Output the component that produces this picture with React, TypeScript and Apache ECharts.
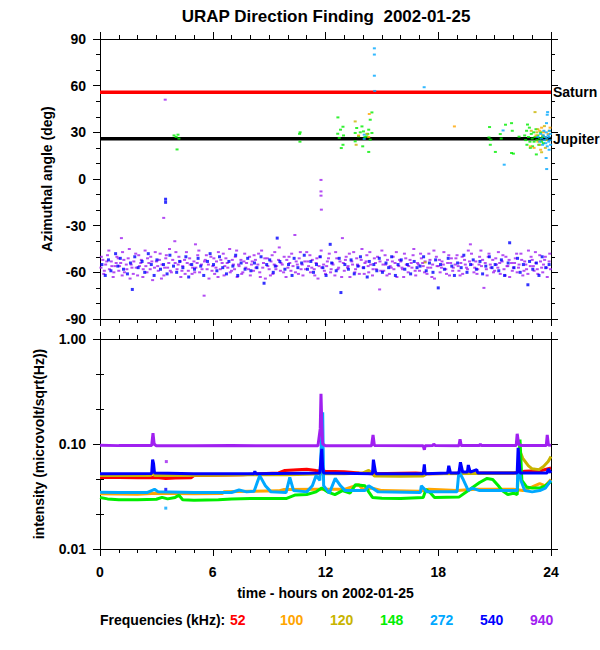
import React, { useEffect, useRef } from "react";
import * as echarts from "echarts";

const TITLE = "URAP Direction Finding  2002-01-25";
const X_TITLE = "time - hours on 2002-01-25";
const Y_TITLE_TOP = "Azimuthal angle (deg)";
const Y_TITLE_BOTTOM = "intensity (microvolt/sqrt(Hz))";
const X_TICKS = [0, 6, 12, 18, 24];
const ANGLE_TICKS = [-90, -60, -30, 0, 30, 60, 90];
const LOG_EXP_TICKS = [-2, -1, 0];
const FREQ_LABEL = "Frequencies (kHz):";
const FREQS = ["52", "100", "120", "148", "272", "540", "940"];
const FREQ_COLORS = ["#ff0000", "#ffa500", "#c8b400", "#00ee00", "#00a8ff", "#0000ff", "#a020f0"];
const PLANETS = ["Saturn", "Jupiter"];
const PLANET_ANGLES = [55.8, 25.9];
const PLANET_COLORS = ["#ff0000", "#000000"];

// ---- azimuth (deg) vs time (h) ----
const AZ_940 = [
  [0.05,-57],[0.07,-50],[0.15,-52],[0.2,-61],[0.23,-59],[0.3,-55],[0.36,-53],[0.4,-49],[0.47,-46],[0.5,-58],[0.6,-53],[0.63,-56],[0.7,-63],[0.74,-60],[0.8,-56],[0.86,-54],[0.9,-50],[0.97,-51],
  [1.0,-59],[1.04,-56],[1.1,-54],[1.14,-38],[1.18,-62],[1.2,-47],[1.27,-52],[1.3,-60],[1.4,-55],[1.43,-58],[1.5,-51],[1.56,-45],[1.6,-64],[1.66,-55],[1.7,-57],[1.77,-61],[1.8,-53],[1.9,-48],[1.93,-57],
  [2.0,-62],[2.06,-49],[2.1,-56],[2.17,-54],[2.2,-52],[2.28,-63],[2.3,-58],[2.4,-46],[2.44,-56],[2.5,-60],[2.53,-51],[2.6,-54],[2.67,-58],[2.7,-50],[2.76,-53],[2.8,-65],[2.9,-57],[2.94,-47],
  [3.0,-53],[3.07,-56],[3.1,-59],[3.16,-52],[3.2,-48],[3.27,-64],[3.3,-55],[3.4,-62],[3.44,-57],[3.5,-51],[3.53,-49],[3.6,-57],[3.66,-54],[3.7,-45],[3.74,-59],[3.8,-60],[3.87,-52],[3.98,-40],
  [4.0,-54],[4.04,-47],[4.1,-58],[4.16,-55],[4.2,-50],[4.27,-53],[4.3,-63],[4.36,-59],[4.4,-56],[4.5,-52],[4.53,-61],[4.6,-47],[4.64,-54],[4.7,-59],[4.77,-51],[4.8,-55],[4.9,-61],[4.93,-57],
  [5.0,-53],[5.04,-60],[5.08,-42],[5.1,-57],[5.17,-54],[5.2,-49],[5.26,-46],[5.3,-60],[5.4,-55],[5.43,-58],[5.54,-75],[5.56,-53],[5.6,-52],[5.66,-49],[5.7,-58],[5.77,-55],[5.8,-64],[5.9,-50],[5.96,-59],
  [6.0,-56],[6.06,-51],[6.1,-61],[6.17,-57],[6.2,-53],[6.28,-63],[6.3,-47],[6.4,-58],[6.43,-52],[6.5,-54],[6.56,-48],[6.6,-62],[6.64,-56],[6.7,-51],[6.77,-54],[6.8,-57],[6.9,-45],[6.93,-60],
  [7.0,-59],[7.04,-52],[7.1,-55],[7.16,-58],[7.2,-50],[7.27,-46],[7.3,-63],[7.37,-55],[7.4,-56],[7.5,-52],[7.54,-61],[7.6,-60],[7.66,-53],[7.7,-48],[7.76,-57],[7.8,-54],[7.9,-58],[7.96,-50],
  [8.0,-62],[8.06,-55],[8.1,-53],[8.17,-59],[8.2,-49],[8.27,-52],[8.3,-57],[8.4,-55],[8.44,-48],[8.5,-60],[8.53,-63],[8.6,-46],[8.66,-57],[8.7,-54],[8.77,-51],[8.8,-64],[8.9,-51],[8.93,-56],
  [9.0,-58],[9.07,-62],[9.1,-53],[9.16,-49],[9.2,-61],[9.27,-55],[9.3,-47],[9.36,-58],[9.4,-56],[9.5,-52],[9.54,-44],[9.6,-59],[9.63,-54],[9.7,-55],[9.77,-60],[9.8,-50],[9.9,-63],[9.94,-52],
  [10.0,-57],[10.06,-50],[10.1,-54],[10.16,-59],[10.2,-48],[10.27,-56],[10.37,-36],[10.4,-60],[10.44,-53],[10.5,-55],[10.56,-61],[10.6,-51],[10.66,-47],[10.7,-58],[10.76,-55],[10.8,-62],[10.9,-53],[10.94,-58],
  [11.0,-47],[11.06,-53],[11.1,-56],[11.17,-49],[11.2,-60],[11.27,-57],[11.3,-52],[11.4,-58],[11.43,-62],[11.5,-54],[11.54,-51],[11.6,-64],[11.66,-56],[11.7,-50],[11.77,-46],[11.8,-57],[11.9,-55],[11.94,-59],
  [12.0,-61],[12.06,-56],[12.1,-53],[12.16,-51],[12.2,-48],[12.27,-60],[12.3,-58],[12.36,-54],[12.4,-55],[12.5,-62],[12.54,-47],[12.6,-51],[12.66,-58],[12.7,-57],[12.77,-53],[12.86,-63],[12.9,-38],[12.95,-54],
  [13.0,-59],[13.06,-52],[13.1,-50],[13.17,-57],[13.2,-56],[13.27,-48],[13.3,-63],[13.4,-53],[13.44,-55],[13.5,-47],[13.56,-60],[13.6,-58],[13.66,-51],[13.7,-55],[13.77,-56],[13.8,-61],[13.9,-52],[13.94,-45],
  [14.0,-57],[14.06,-61],[14.1,-54],[14.16,-53],[14.2,-49],[14.27,-56],[14.3,-60],[14.36,-47],[14.4,-55],[14.5,-62],[14.53,-58],[14.6,-51],[14.66,-54],[14.7,-58],[14.77,-50],[14.88,-71],[14.9,-53],[14.94,-59],
  [15.0,-46],[15.06,-55],[15.1,-59],[15.17,-49],[15.2,-55],[15.27,-62],[15.3,-52],[15.4,-61],[15.44,-56],[15.5,-57],[15.56,-53],[15.6,-50],[15.64,-58],[15.7,-54],[15.77,-47],[15.8,-63],[15.9,-56],[15.94,-52],
  [16.0,-53],[16.07,-57],[16.1,-58],[16.16,-63],[16.2,-48],[16.27,-51],[16.3,-55],[16.4,-60],[16.43,-56],[16.5,-52],[16.56,-54],[16.6,-57],[16.66,-49],[16.7,-45],[16.77,-59],[16.8,-62],[16.9,-54],[16.94,-55],
  [17.0,-59],[17.06,-48],[17.1,-51],[17.17,-54],[17.2,-56],[17.27,-60],[17.3,-53],[17.4,-61],[17.44,-57],[17.5,-48],[17.56,-52],[17.6,-57],[17.66,-63],[17.7,-55],[17.77,-46],[17.8,-64],[17.9,-50],[17.94,-56],
  [18.0,-56],[18.06,-52],[18.1,-60],[18.17,-57],[18.2,-53],[18.27,-55],[18.3,-47],[18.4,-58],[18.44,-61],[18.5,-54],[18.56,-49],[18.6,-62],[18.66,-54],[18.7,-51],[18.77,-59],[18.8,-57],[18.9,-55],[18.94,-51],
  [19.0,-49],[19.06,-56],[19.1,-59],[19.16,-62],[19.2,-54],[19.27,-50],[19.3,-61],[19.4,-52],[19.44,-55],[19.5,-57],[19.56,-58],[19.6,-46],[19.66,-53],[19.71,-42],[19.77,-48],[19.8,-55],[19.9,-60],[19.94,-57],
  [20.0,-53],[20.06,-61],[20.1,-58],[20.17,-55],[20.2,-50],[20.27,-46],[20.3,-56],[20.36,-52],[20.43,-70],[20.5,-54],[20.56,-58],[20.6,-62],[20.66,-50],[20.7,-48],[20.77,-55],[20.8,-57],[20.9,-52],[20.94,-60],
  [21.0,-59],[21.06,-51],[21.1,-55],[21.17,-57],[21.2,-47],[21.27,-54],[21.3,-61],[21.4,-53],[21.44,-49],[21.5,-58],[21.56,-62],[21.6,-50],[21.66,-56],[21.7,-56],[21.77,-52],[21.8,-63],[21.9,-54],[21.94,-59],
  [22.0,-57],[22.06,-54],[22.1,-51],[22.17,-48],[22.2,-60],[22.27,-57],[22.3,-55],[22.4,-48],[22.44,-52],[22.5,-62],[22.56,-59],[22.6,-53],[22.66,-55],[22.7,-58],[22.77,-61],[22.8,-46],[22.9,-56],[22.94,-50],
  [23.0,-52],[23.06,-56],[23.1,-59],[23.17,-47],[23.2,-54],[23.27,-58],[23.3,-61],[23.4,-49],[23.44,-53],[23.5,-57],[23.56,-60],[23.6,-55],[23.66,-52],[23.7,-50],[23.77,-57],[23.8,-63],[23.9,-53],[23.93,-48],[23.97,-58],
  [3.47,51],[3.39,-25],[11.76,-0.6],[11.76,-8],[11.76,-10.7],[11.78,-19.7]
];

const AZ_540 = [
  [0.1,-55],[0.28,-62],[0.45,-52],[0.58,-59],[0.83,-48],[0.95,-56],
  [1.08,-51],[1.25,-58],[1.46,-61],[1.62,-54],[1.72,-71],[1.85,-50],
  [2.03,-57],[2.24,-53],[2.38,-60],[2.57,-48],[2.73,-55],[2.88,-62],
  [3.03,-52],[3.22,-58],[3.38,-55],[3.57,-61],[3.72,-49],[3.91,-56],
  [4.08,-60],[4.24,-53],[4.41,-57],[4.57,-50],[4.72,-63],[4.88,-55],
  [5.03,-58],[5.22,-51],[5.36,-56],[5.52,-62],[5.72,-53],[5.86,-48],
  [6.04,-55],[6.22,-59],[6.36,-50],[6.53,-57],[6.73,-61],[6.86,-53],
  [7.07,-56],[7.22,-49],[7.33,-62],[7.51,-54],[7.72,-58],[7.86,-51],
  [8.03,-59],[8.22,-54],[8.35,-57],[8.57,-50],[8.73,-67],[8.87,-55],
  [9.03,-52],[9.22,-60],[9.33,-56],[9.43,-38],[9.57,-53],[9.84,-58],
  [10.03,-55],[10.22,-62],[10.33,-51],[10.53,-57],[10.73,-54],[10.87,-49],
  [11.04,-58],[11.22,-53],[11.36,-60],[11.52,-55],[11.72,-50],[11.86,-57],
  [12.03,-62],[12.25,-42],[12.33,-54],[12.57,-59],[12.73,-51],[12.82,-73],
  [13.03,-55],[13.22,-58],[13.36,-52],[13.53,-61],[13.72,-56],[13.86,-50],
  [14.03,-57],[14.22,-63],[14.33,-53],[14.57,-55],[14.73,-59],[14.86,-51],
  [15.03,-60],[15.22,-54],[15.36,-57],[15.52,-50],[15.72,-62],[15.86,-55],
  [16.03,-52],[16.22,-58],[16.36,-55],[16.53,-61],[16.72,-53],[16.87,-57],
  [17.03,-56],[17.22,-50],[17.36,-59],[17.53,-54],[17.72,-60],[17.86,-52],
  [18.0,-70],[18.12,-55],[18.33,-58],[18.53,-51],[18.72,-56],[18.86,-62],
  [19.03,-54],[19.22,-57],[19.36,-49],[19.53,-60],[19.72,-55],[19.86,-52],
  [20.03,-58],[20.22,-53],[20.36,-61],[20.53,-56],[20.72,-50],[20.86,-57],
  [21.03,-55],[21.22,-59],[21.36,-52],[21.53,-62],[21.72,-54],[21.8,-41],
  [22.03,-57],[22.22,-51],[22.36,-60],[22.53,-55],[22.77,-68],[22.86,-53],
  [23.03,-58],[23.22,-54],[23.36,-62],[23.53,-50],[23.72,-57],[23.9,-55],
  [3.49,-13],[3.49,-15]
];

const AZ_148 = [
  [3.94,28],[4.05,27],[4.15,28.5],[4.2,26],[4.1,19],
  [10.62,29],[10.65,30],[10.64,24],
  [12.66,39.6],[12.93,33.6],[12.8,31.7],[12.65,29.1],[12.73,26.4],[12.96,28],[12.84,19.9],[12.93,22],
  [13.94,33.8],[14.38,38.1],[14.47,42.8],[14.3,31.7],[14.02,30.6],[13.66,32.8],[13.58,29.6],[13.76,27.4],
  [14.2,27.4],[14.38,25.3],[13.98,21],[14.3,17.4],[14.47,29.6],[13.58,24.2],[14.1,27],[13.85,30],[14.25,29],
  [20.73,33.4],[21.58,34.9],[21.9,35.9],[21.94,31],[20.7,26.7],[20.8,25.3],[21.3,28.9],[21.35,26],
  [20.77,22],[21.04,17.4],[21.9,16.7],[22.0,16.3],[22.3,27.2],
  [22.6,28],[22.65,25],[22.7,31],[22.72,22],[22.8,27],[22.85,33],[22.88,24],[22.95,29],[23.0,26],
  [23.02,21],[23.08,30],[23.1,24],[23.15,27],[23.2,32],[23.22,15.8],[23.25,25],[23.3,28],[23.35,22],
  [23.4,26],[23.45,30],[23.5,24],[23.55,27],[23.6,23],[22.75,35],[22.9,20]
];

const AZ_272 = [
  [14.6,84],[14.6,80],[14.6,66.4],[14.62,56.6],[17.25,59],[14.06,28.5],[14.06,25.8],
  [21.45,31.2],[21.51,9.2],[23.8,41.3],[23.82,43],[23.76,35.9],[23.9,18.8],[23.74,13.5],[23.77,6.4],
  [23.3,27],[23.4,24],[23.45,29],[23.5,26],[23.55,22],[23.6,28],[23.62,31],[23.65,25],[23.7,27],
  [23.72,23],[23.75,30],[23.78,26],[23.8,21],[23.85,28],[23.88,24],[23.9,27],[23.92,31],[23.95,25],
  [23.97,29],[23.98,22]
];

const AZ_120 = [
  [13.58,37],[13.63,22],[14.2,29],[17.3,-53.6],[23.15,43],[23.5,17.2],[23.3,32],[23.4,22],[23.55,28],
  [23.65,34],[23.25,30],[23.7,20],[23.75,25],[23.9,31],[22.95,31]
];

const AZ_100 = [
  [18.86,33.8],[13.76,28],[14.33,41.8],[14.3,27],[22.9,21],[23.45,18.8],[23.1,20],[23.3,24],[23.5,33],
  [23.6,30],[23.7,27],[23.85,29],[23.4,31],[23.95,33],[23.2,28]
];

// ---- intensity (microvolt/sqrt(Hz)) vs time (h) ----
const INT_52 = [
  [0,0.048],[1,0.048],[2,0.0478],[3,0.048],[3.5,0.047],[4,0.0475],[4.86,0.0478],[5,0.05],[7.6,0.051],
  [8.5,0.052],[9.5,0.053],[9.84,0.056],[10.5,0.057],[11,0.0575],[11.5,0.056],[12,0.055],[13,0.0545],
  [13.8,0.053],[14.5,0.052],[16.8,0.053],[17.5,0.052],[20,0.053],[22,0.053],[22.6,0.055],[23.5,0.056],[24,0.059]
];
const INT_100 = [
  [0,0.0335],[2,0.0333],[3,0.034],[5,0.0335],[6.5,0.0337],[6.6,0.035],[8,0.0355],[9.5,0.0358],[9.8,0.0368],
  [11.5,0.037],[12,0.037],[13,0.037],[13.76,0.041],[14,0.037],[14.5,0.038],[15,0.036],[17,0.0355],[17.5,0.037],
  [19,0.036],[20,0.037],[22,0.037],[22.5,0.036],[23,0.039],[23.4,0.042],[23.7,0.04],[24,0.046]
];
const INT_120 = [
  [0,0.05],[2.7,0.05],[2.8,0.054],[2.9,0.05],[6,0.0505],[8,0.051],[10,0.051],[12,0.052],[13,0.052],
  [14.0,0.053],[14.3,0.056],[14.5,0.052],[14.6,0.0495],[16,0.0493],[17.2,0.0495],[17.4,0.052],[20,0.0525],
  [22.2,0.053],[22.35,0.085],[22.5,0.073],[22.8,0.062],[23.0,0.058],[23.35,0.057],[23.6,0.061],[23.85,0.068],[24,0.076]
];
const INT_148 = [
  [0,0.031],[0.4,0.03],[1,0.0295],[2,0.0295],[3,0.0298],[3.3,0.031],[3.6,0.03],[4.0,0.031],[4.2,0.0325],
  [4.4,0.0295],[5,0.0292],[6.3,0.0295],[7,0.03],[8,0.0302],[9.9,0.0302],[10.4,0.0327],[11,0.033],[11.5,0.035],
  [11.8,0.038],[12.1,0.035],[12.5,0.033],[12.9,0.036],[13.3,0.034],[13.6,0.041],[14.1,0.04],[14.3,0.035],
  [14.5,0.031],[15,0.0305],[16,0.0303],[17.2,0.031],[17.35,0.037],[17.6,0.034],[17.8,0.031],[19.1,0.0312],
  [19.6,0.036],[20.2,0.043],[20.6,0.047],[20.9,0.046],[21.2,0.04],[21.4,0.036],[21.7,0.033],[22.0,0.034],
  [22.2,0.033],[22.35,0.11],[22.45,0.045],[22.7,0.039],[23.0,0.038],[23.4,0.038],[23.7,0.04],[24,0.044]
];
const INT_272 = [
  [0,0.0348],[1,0.0345],[2.5,0.0345],[2.9,0.037],[3.1,0.035],[5,0.0345],[7.0,0.0345],[7.4,0.0365],[7.8,0.035],
  [8.2,0.0355],[8.5,0.05],[8.8,0.04],[9.1,0.035],[9.9,0.0345],[10.1,0.048],[10.3,0.036],[11,0.035],[11.3,0.04],
  [11.5,0.05],[11.7,0.045],[11.85,0.2],[11.9,0.04],[12.0,0.038],[12.2,0.034],[12.52,0.047],[12.8,0.04],
  [13.05,0.036],[14.1,0.036],[14.3,0.04],[14.8,0.035],[17.05,0.0345],[17.1,0.04],[17.4,0.035],[19.0,0.035],
  [19.1,0.055],[19.3,0.047],[19.6,0.036],[19.8,0.038],[20.2,0.036],[22.2,0.036],[22.25,0.066],[22.4,0.045],
  [22.6,0.036],[23.0,0.035],[23.4,0.036],[23.7,0.038],[24,0.045]
];
const INT_540 = [
  [0,0.052],[2.75,0.0525],[2.8,0.071],[2.85,0.065],[2.9,0.053],[5,0.052],[8.2,0.052],[8.24,0.055],[8.3,0.052],
  [11.7,0.053],[11.8,0.09],[11.85,0.06],[11.9,0.053],[14.5,0.052],[14.55,0.071],[14.65,0.055],[14.7,0.052],
  [17.2,0.052],[17.26,0.064],[17.3,0.052],[18.5,0.053],[18.56,0.062],[18.65,0.053],[19.1,0.053],[19.18,0.067],
  [19.3,0.054],[19.55,0.054],[19.6,0.063],[19.7,0.054],[20.05,0.057],[20.1,0.053],[22.2,0.053],[22.25,0.092],
  [22.3,0.07],[22.35,0.053],[23.8,0.053],[23.85,0.058],[24,0.053]
];
const INT_940 = [
  [0,0.0975],[1,0.0965],[2.75,0.0965],[2.82,0.127],[2.88,0.1],[3,0.096],[5,0.096],[7,0.0965],[9,0.0962],
  [11.6,0.0963],[11.72,0.14],[11.76,0.3],[11.8,0.16],[11.85,0.1],[12,0.096],[14.45,0.096],[14.53,0.122],
  [14.6,0.097],[17.2,0.096],[17.26,0.088],[17.3,0.096],[17.7,0.0965],[17.76,0.1],[17.85,0.0965],[19.1,0.096],
  [19.16,0.111],[19.22,0.097],[20.2,0.0965],[20.24,0.1],[20.3,0.0965],[22.15,0.097],[22.2,0.125],[22.28,0.1],
  [22.4,0.097],[23.75,0.097],[23.8,0.122],[23.86,0.098],[24,0.097]
];
const INT_STRAY_940 = [[3.53,0.068]];
const INT_STRAY_540 = [[3.5,0.037]];
const INT_STRAY_272 = [[3.5,0.0245]];

const AZ_DATA = [null, AZ_100, AZ_120, AZ_148, AZ_272, AZ_540, AZ_940];
const INT_DATA = [INT_52, INT_100, INT_120, INT_148, INT_272, INT_540, INT_940];

const FONT = "'Liberation Sans', Arial, Helvetica, sans-serif";

function buildOption() {
  const xMin = X_TICKS[0];
  const xMax = X_TICKS[X_TICKS.length - 1];
  const xInt = X_TICKS[1] - X_TICKS[0];
  const aMin = ANGLE_TICKS[0];
  const aMax = ANGLE_TICKS[ANGLE_TICKS.length - 1];
  const aInt = ANGLE_TICKS[1] - ANGLE_TICKS[0];
  const lMin = Math.pow(10, LOG_EXP_TICKS[0]);
  const lMax = Math.pow(10, LOG_EXP_TICKS[LOG_EXP_TICKS.length - 1]);

  const black = "#000";
  const line = { show: true, onZero: false, lineStyle: { color: black, width: 1 } };
  const tick = { show: true, length: 7, lineStyle: { color: black, width: 1 } };
  const minor = (n: number) => ({ show: true, splitNumber: n, length: 4, lineStyle: { color: black, width: 1 } });
  const lbl = { color: black, fontFamily: FONT, fontSize: 14, fontWeight: "bold" as const };
  const noSplit = { show: false };

  const xAxisBase = (grid: number, pos: string, labels: boolean, extra: any = {}) => ({
    type: "value",
    gridIndex: grid,
    position: pos,
    min: xMin,
    max: xMax,
    interval: xInt,
    axisLine: line,
    axisTick: tick,
    minorTick: minor(6),
    splitLine: noSplit,
    axisLabel: labels ? { ...lbl, margin: 16 } : { show: false },
    ...extra,
  });

  const series: any[] = [];

  // planet reference lines
  PLANETS.forEach((p, i) => {
    series.push({
      type: "line",
      name: p,
      xAxisIndex: 0,
      yAxisIndex: 0,
      data: [[xMin, PLANET_ANGLES[i]], [xMax, PLANET_ANGLES[i]]],
      showSymbol: false,
      symbol: "none",
      lineStyle: { color: PLANET_COLORS[i], width: 3.5 },
      endLabel: { show: true, formatter: p, distance: 2, color: black, fontFamily: FONT, fontSize: 14, fontWeight: "bold" },
      z: 1,
      silent: true,
    });
  });

  // azimuth scatter, drawn in this order
  const azOrder = [6, 5, 3, 2, 1, 4];
  azOrder.forEach((k) => {
    const d = AZ_DATA[k];
    if (!d) return;
    series.push({
      type: "scatter",
      name: FREQS[k],
      xAxisIndex: 0,
      yAxisIndex: 0,
      data: d,
      symbol: "rect",
      symbolSize: k === 5 ? [3, 3] : [3, 2],
      itemStyle: { color: FREQ_COLORS[k] },
      z: 3,
      silent: true,
    });
  });

  // intensity lines
  INT_DATA.forEach((d, k) => {
    series.push({
      type: "line",
      name: FREQS[k] + " kHz",
      xAxisIndex: 2,
      yAxisIndex: 2,
      data: d,
      showSymbol: false,
      symbol: "none",
      lineStyle: { color: FREQ_COLORS[k], width: 3 },
      z: 3 + k,
      silent: true,
    });
  });
  [
    [INT_STRAY_272, 4],
    [INT_STRAY_540, 5],
    [INT_STRAY_940, 6],
  ].forEach(([d, k]: any) => {
    series.push({
      type: "scatter",
      xAxisIndex: 2,
      yAxisIndex: 2,
      data: d,
      symbol: "rect",
      symbolSize: [3, 3],
      itemStyle: { color: FREQ_COLORS[k] },
      z: 10,
      silent: true,
    });
  });

  const graphics: any[] = [
    {
      type: "text",
      x: 326,
      y: 16,
      style: { text: TITLE, fill: black, font: `bold 17px ${FONT}`, textAlign: "center", textVerticalAlign: "middle" },
    },
    {
      type: "text",
      x: 100,
      y: 620,
      style: { text: FREQ_LABEL, fill: black, font: `bold 14px ${FONT}`, textAlign: "left", textVerticalAlign: "middle" },
    },
  ];
  FREQS.forEach((f, i) => {
    graphics.push({
      type: "text",
      x: 230 + i * 50,
      y: 620,
      style: { text: f, fill: FREQ_COLORS[i], font: `bold 14px ${FONT}`, textAlign: "left", textVerticalAlign: "middle" },
    });
  });

  return {
    animation: false,
    backgroundColor: "#fff",
    textStyle: { fontFamily: FONT },
    grid: [
      { left: 100, top: 39, width: 451, height: 280 },
      { left: 100, top: 339, width: 451, height: 210 },
    ],
    xAxis: [
      xAxisBase(0, "bottom", false),
      xAxisBase(0, "top", false),
      xAxisBase(1, "bottom", true, {
        name: X_TITLE,
        nameLocation: "middle",
        nameGap: 37,
        nameTextStyle: { ...lbl, verticalAlign: "top" },
      }),
      xAxisBase(1, "top", false),
    ],
    yAxis: [
      {
        type: "value",
        gridIndex: 0,
        position: "left",
        min: aMin,
        max: aMax,
        interval: aInt,
        axisLine: line,
        axisTick: tick,
        minorTick: minor(3),
        splitLine: noSplit,
        axisLabel: { ...lbl, margin: 14 },
        name: Y_TITLE_TOP,
        nameLocation: "middle",
        nameGap: 46,
        nameTextStyle: { ...lbl },
      },
      {
        type: "value",
        gridIndex: 0,
        position: "right",
        min: aMin,
        max: aMax,
        interval: aInt,
        axisLine: line,
        axisTick: tick,
        minorTick: minor(3),
        splitLine: noSplit,
        axisLabel: { show: false },
      },
      {
        type: "log",
        logBase: 10,
        gridIndex: 1,
        position: "left",
        min: lMin,
        max: lMax,
        axisLine: line,
        axisTick: tick,
        splitLine: noSplit,
        axisLabel: { ...lbl, margin: 14, formatter: (v: number) => v.toFixed(2) },
        name: Y_TITLE_BOTTOM,
        nameLocation: "middle",
        nameGap: 54,
        nameTextStyle: { ...lbl },
      },
      {
        type: "log",
        logBase: 10,
        gridIndex: 1,
        position: "right",
        min: lMin,
        max: lMax,
        axisLine: line,
        axisTick: tick,
        splitLine: noSplit,
        axisLabel: { show: false },
      },
      // log-spaced minor ticks (decade exponent axes)
      {
        type: "value",
        gridIndex: 1,
        position: "left",
        min: LOG_EXP_TICKS[0],
        max: LOG_EXP_TICKS[LOG_EXP_TICKS.length - 1],
        interval: 1,
        axisLine: { show: false },
        axisTick: { show: false },
        minorTick: minor(3),
        splitLine: noSplit,
        axisLabel: { show: false },
      },
      {
        type: "value",
        gridIndex: 1,
        position: "right",
        min: LOG_EXP_TICKS[0],
        max: LOG_EXP_TICKS[LOG_EXP_TICKS.length - 1],
        interval: 1,
        axisLine: { show: false },
        axisTick: { show: false },
        minorTick: minor(3),
        splitLine: noSplit,
        axisLabel: { show: false },
      },
    ],
    series,
    graphic: graphics,
  };
}

export default function App() {
  const ref = useRef<HTMLDivElement>(null);
  useEffect(() => {
    if (!ref.current) return;
    const chart = echarts.init(ref.current, undefined, { renderer: "svg" });
    chart.setOption(buildOption() as any);
    return () => chart.dispose();
  }, []);
  return (
    <div
      ref={ref}
      style={{ position: "absolute", left: 0, top: 0, width: 600, height: 650, background: "#fff" }}
    />
  );
}
